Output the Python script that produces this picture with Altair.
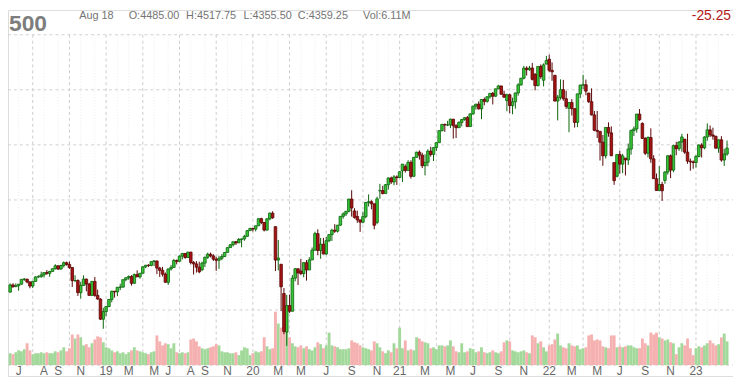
import datetime as dt
import numpy as np
import pandas as pd
import altair as alt

# ---------------- data ----------------
FIRST_WEEK = -34                 # week index of first candle (0 = week of Mon 2018-12-31)
WEEK_ZERO = dt.date(2018, 12, 31)

# weekly candles (open, high, low, close)
ohlc_2018 = [
    (2663, 2742, 2658, 2728), (2728, 2743, 2701, 2713), (2713, 2742, 2707, 2721), (2721, 2736, 2676, 2735),
    (2735, 2779, 2730, 2779), (2779, 2791, 2765, 2780), (2780, 2785, 2743, 2755), (2755, 2760, 2698, 2718),
    (2718, 2760, 2699, 2760), (2760, 2805, 2759, 2801), (2801, 2816, 2793, 2802), (2802, 2848, 2795, 2819),
    (2819, 2841, 2795, 2840), (2840, 2863, 2820, 2833), (2833, 2855, 2802, 2850), (2850, 2877, 2850, 2875),
    (2875, 2916, 2868, 2902), (2902, 2903, 2865, 2872), (2872, 2912, 2868, 2904), (2904, 2941, 2886, 2930),
    (2930, 2940, 2903, 2914), (2914, 2940, 2874, 2886), (2886, 2888, 2710, 2767), (2767, 2816, 2755, 2768),
    (2768, 2779, 2628, 2658), (2658, 2756, 2603, 2723), (2723, 2815, 2722, 2781), (2781, 2785, 2670, 2736),
    (2736, 2747, 2631, 2633), (2633, 2760, 2631, 2760), (2760, 2800, 2621, 2633), (2633, 2685, 2593, 2600),
    (2600, 2607, 2409, 2417), (2417, 2520, 2330, 2486),
]
ohlc_2019 = [
    (2486, 2538, 2444, 2532), (2532, 2597, 2525, 2596), (2596, 2675, 2570, 2671), (2671, 2672, 2613, 2665),
    (2665, 2709, 2627, 2707), (2707, 2739, 2681, 2708), (2708, 2776, 2705, 2776), (2776, 2796, 2761, 2793),
    (2793, 2814, 2775, 2804), (2804, 2817, 2722, 2743), (2743, 2831, 2741, 2822), (2822, 2860, 2800, 2801),
    (2801, 2836, 2785, 2834), (2834, 2894, 2834, 2893), (2893, 2910, 2880, 2907), (2907, 2916, 2891, 2905),
    (2905, 2940, 2898, 2940), (2940, 2954, 2900, 2946), (2946, 2946, 2826, 2881), (2881, 2892, 2801, 2860),
    (2860, 2892, 2805, 2826), (2826, 2841, 2750, 2752), (2752, 2876, 2729, 2873), (2873, 2910, 2858, 2887),
    (2887, 2964, 2887, 2950), (2950, 2959, 2914, 2942), (2942, 2996, 2942, 2990), (2990, 3017, 2960, 3014),
    (3014, 3018, 2966, 2977), (2977, 3028, 2977, 3026), (3026, 3028, 2914, 2932), (2932, 2945, 2822, 2919),
    (2919, 2944, 2840, 2889), (2889, 2939, 2834, 2847), (2866, 2940, 2853, 2926), (2926, 2985, 2891, 2979),
    (2979, 3021, 2964, 3007), (3007, 3022, 2978, 2992), (2992, 3007, 2946, 2962), (2962, 2983, 2856, 2952),
    (2952, 2993, 2874, 2970), (2970, 3008, 2952, 2986), (2986, 3027, 2982, 3023), (3023, 3067, 3023, 3067),
    (3067, 3098, 3066, 3093), (3093, 3120, 3078, 3120), (3120, 3127, 3091, 3110), (3110, 3154, 3110, 3141),
    (3141, 3150, 3070, 3146), (3146, 3183, 3129, 3169), (3169, 3226, 3166, 3221), (3221, 3248, 3221, 3240),
    (3240, 3248, 3213, 3235),
]
ohlc_2020 = [
    (3235, 3267, 3214, 3265), (3265, 3330, 3263, 3330), (3330, 3338, 3280, 3295), (3295, 3300, 3214, 3226),
    (3226, 3337, 3223, 3328), (3328, 3385, 3315, 3380), (3380, 3397, 3328, 3338), (3257, 3260, 2855, 2954),
    (2954, 3136, 2860, 2972), (2915, 2920, 2490, 2711), (2650, 2700, 2280, 2305), (2300, 2637, 2175, 2541),
    (2541, 2641, 2474, 2489), (2489, 2819, 2489, 2790), (2790, 2880, 2761, 2875), (2875, 2875, 2727, 2837),
    (2854, 2965, 2817, 2831), (2831, 2934, 2797, 2930), (2930, 2954, 2767, 2864), (2864, 2980, 2864, 2955),
    (2955, 3068, 2955, 3044), (3044, 3211, 3039, 3194), (3194, 3233, 2999, 3041), (3041, 3155, 2966, 3098),
    (3098, 3155, 3007, 3009), (3009, 3165, 3000, 3130), (3130, 3186, 3116, 3185), (3185, 3238, 3127, 3225),
    (3225, 3280, 3201, 3216), (3216, 3272, 3204, 3271), (3271, 3352, 3264, 3351), (3351, 3387, 3330, 3373),
    (3373, 3399, 3354, 3397), (3397, 3509, 3387, 3508), (3508, 3588, 3349, 3427), (3400, 3425, 3330, 3341),
    (3350, 3402, 3292, 3319), (3319, 3320, 3210, 3298), (3298, 3394, 3288, 3348), (3348, 3479, 3333, 3477),
    (3477, 3550, 3440, 3484), (3484, 3497, 3415, 3465), (3465, 3466, 3233, 3270), (3296, 3529, 3279, 3510),
    (3583, 3646, 3511, 3585), (3585, 3628, 3550, 3558), (3558, 3645, 3557, 3638), (3638, 3705, 3594, 3699),
    (3699, 3712, 3645, 3663), (3663, 3726, 3633, 3709), (3709, 3723, 3636, 3703), (3703, 3760, 3703, 3756),
]
ohlc_2021 = [
    (3764, 3826, 3663, 3825), (3803, 3823, 3749, 3768), (3768, 3861, 3768, 3841), (3841, 3860, 3694, 3714),
    (3714, 3887, 3714, 3887), (3887, 3937, 3886, 3934), (3934, 3950, 3866, 3907), (3907, 3928, 3789, 3811),
    (3811, 3914, 3723, 3842), (3842, 3960, 3805, 3943), (3943, 3983, 3894, 3913), (3913, 3978, 3853, 3975),
    (3975, 4021, 3944, 4020), (4020, 4130, 4020, 4129), (4129, 4192, 4122, 4185), (4185, 4194, 4118, 4180),
    (4180, 4218, 4170, 4181), (4181, 4238, 4152, 4233), (4233, 4236, 4057, 4174), (4174, 4188, 4062, 4156),
    (4156, 4213, 4155, 4204), (4204, 4234, 4168, 4230), (4230, 4250, 4219, 4247), (4247, 4262, 4165, 4166),
    (4166, 4286, 4165, 4281), (4281, 4356, 4274, 4352), (4352, 4372, 4320, 4370), (4370, 4394, 4321, 4327),
    (4327, 4415, 4233, 4412), (4412, 4430, 4360, 4395), (4395, 4441, 4383, 4437), (4437, 4468, 4420, 4468),
    (4468, 4480, 4367, 4442), (4442, 4510, 4436, 4509), (4509, 4545, 4505, 4535), (4535, 4536, 4457, 4459),
    (4459, 4492, 4427, 4433), (4402, 4465, 4305, 4455), (4455, 4466, 4288, 4357), (4357, 4429, 4278, 4391),
    (4391, 4475, 4329, 4471), (4471, 4560, 4447, 4545), (4545, 4608, 4537, 4605), (4605, 4718, 4595, 4697),
    (4697, 4714, 4630, 4683), (4683, 4718, 4672, 4698), (4698, 4744, 4585, 4595), (4640, 4652, 4495, 4538),
    (4538, 4713, 4531, 4712), (4712, 4731, 4600, 4620), (4587, 4740, 4531, 4726), (4733, 4808, 4733, 4766),
]
ohlc_2022 = [
    (4778, 4818, 4662, 4677), (4677, 4749, 4582, 4663), (4632, 4632, 4395, 4398), (4398, 4453, 4222, 4432),
    (4432, 4595, 4410, 4501), (4501, 4590, 4401, 4419), (4419, 4490, 4327, 4349), (4332, 4385, 4115, 4385),
    (4385, 4416, 4267, 4329), (4329, 4329, 4157, 4204), (4204, 4465, 4161, 4463), (4463, 4546, 4424, 4543),
    (4543, 4637, 4507, 4546), (4546, 4593, 4450, 4488), (4471, 4471, 4381, 4392), (4392, 4513, 4267, 4272),
    (4272, 4308, 4124, 4132), (4132, 4308, 4062, 4123), (4123, 4124, 3858, 4024), (4024, 4090, 3810, 3901),
    (3901, 4158, 3876, 4158), (4158, 4204, 4074, 4109), (4109, 4168, 3900, 3901), (3839, 3839, 3637, 3675),
    (3715, 3913, 3705, 3912), (3912, 3946, 3738, 3825), (3825, 3918, 3743, 3899), (3880, 3880, 3722, 3863),
    (3863, 4012, 3818, 3962), (3962, 4140, 3911, 4130), (4130, 4168, 4080, 4145), (4145, 4280, 4111, 4280),
    (4280, 4325, 4218, 4228), (4195, 4204, 4057, 4058), (4058, 4071, 3907, 3924), (3924, 4077, 3886, 4067),
    (4067, 4150, 3837, 3873), (3873, 3906, 3693, 3693), (3693, 3740, 3585, 3586), (3586, 3807, 3584, 3640),
    (3640, 3665, 3491, 3583), (3677, 3762, 3647, 3753), (3753, 3906, 3730, 3901), (3901, 3912, 3698, 3771),
    (3771, 4001, 3751, 3993), (3993, 4028, 3906, 3965), (3965, 4034, 3945, 4026), (4026, 4100, 3938, 4072),
    (4052, 4052, 3918, 3934), (3934, 4101, 3828, 3852), (3852, 3876, 3765, 3845), (3845, 3859, 3783, 3840),
]
ohlc_2023 = [
    (3840, 3906, 3794, 3895), (3895, 4004, 3887, 3999), (3999, 4015, 3885, 3973), (3973, 4078, 3960, 4071),
    (4071, 4195, 4037, 4136), (4136, 4176, 4071, 4090), (4090, 4156, 4047, 4079), (4079, 4079, 3968, 3970),
    (3970, 4049, 3928, 4046), (4046, 4079, 3847, 3862), (3862, 3964, 3809, 3917), (3917, 4039, 3901, 3971),
]

# weekly volume (millions of contracts)
vol_2018 = [5.0, 4.6, 5.4, 6.2, 5.8, 6.7, 9.2, 6.2, 4.6, 5.0, 5.0, 5.4, 5.0, 5.4, 5.0, 5.0, 5.8,
            5.4, 6.2, 7.5, 5.8, 7.1, 12.9, 11.2, 12.9, 11.7, 8.3, 8.8, 7.5, 9.2, 10.8, 12.1, 11.7, 9.6]
vol_2019 = [7.5, 7.1, 6.2, 5.4, 5.8, 5.0, 5.4, 4.6, 5.4, 6.2, 7.5, 6.2, 5.8, 5.4, 5.0, 4.6, 5.4, 5.8,
            12.5, 10.0, 8.3, 9.2, 8.8, 7.1, 9.2, 5.4, 5.0, 5.4, 5.0, 5.4, 10.8, 11.2, 10.0, 7.9, 7.1, 6.7,
            7.1, 7.5, 7.9, 8.8, 8.3, 5.8, 5.4, 5.4, 5.0, 5.0, 5.4, 4.2, 6.2, 7.5, 7.1, 4.2, 5.0]
vol_2020 = [5.8, 5.4, 5.8, 11.7, 7.9, 6.7, 7.1, 22.5, 17.5, 15.8, 14.2, 19.2, 11.7, 9.2, 7.9, 7.5, 8.3,
            7.1, 7.9, 6.7, 6.2, 7.5, 9.6, 8.8, 7.1, 8.3, 13.7, 8.3, 7.9, 7.5, 6.7, 6.7, 6.7, 7.1, 10.4,
            9.6, 9.2, 8.3, 7.5, 7.1, 6.7, 6.2, 10.0, 9.2, 7.5, 5.8, 5.0, 6.2, 5.4, 9.2, 7.1, 15.8]
vol_2021 = [7.1, 10.4, 6.2, 6.7, 6.2, 11.7, 11.2, 10.0, 9.6, 9.2, 7.1, 7.5, 6.7, 8.3, 8.3, 7.9, 8.3,
            10.4, 7.9, 5.8, 5.4, 9.2, 5.4, 5.8, 7.1, 6.7, 5.4, 5.8, 7.5, 5.4, 5.0, 5.4, 6.2, 5.4, 5.0,
            5.8, 9.6, 10.4, 10.0, 6.2, 5.8, 5.4, 5.8, 6.2, 5.4, 5.0, 12.5, 11.7, 9.2, 10.0, 7.5, 5.8]
vol_2022 = [8.3, 8.8, 10.8, 13.3, 8.3, 7.5, 7.1, 9.2, 8.3, 7.9, 8.3, 6.7, 7.1, 7.5, 12.5, 12.9, 10.4,
            10.8, 10.4, 7.9, 7.5, 7.1, 12.5, 12.5, 7.5, 7.9, 7.5, 7.9, 8.3, 8.3, 7.5, 7.1, 7.1, 11.2,
            9.2, 8.3, 13.7, 12.9, 13.7, 11.7, 11.2, 10.4, 10.8, 9.6, 9.2, 4.6, 7.5, 9.2, 8.3, 11.2, 7.1, 4.2]
vol_2023 = [7.1, 7.9, 7.5, 8.3, 9.2, 10.4, 9.2, 8.3, 8.8, 11.7, 13.3, 10.0]

price_grid = [2000, 2500, 3000, 3500, 4000, 4500, 5000]

label_text = ["J", "A", "S", "N", "19", "M", "M", "J", "A", "S", "N", "20", "M", "M", "J", "S", "N",
              "21", "M", "M", "J", "S", "N", "22", "M", "M", "J", "S", "N", "23"]
label_month = ["2018-06", "2018-08", "2018-09", "2018-11", "2019-01", "2019-03", "2019-05", "2019-06",
               "2019-08", "2019-09", "2019-11", "2020-01", "2020-03", "2020-05", "2020-07", "2020-09",
               "2020-11", "2021-01", "2021-03", "2021-05", "2021-07", "2021-09", "2021-11", "2022-01",
               "2022-03", "2022-05", "2022-07", "2022-09", "2022-11", "2023-01"]

header_symbol = "500"
header_date = "Aug 18"
header_ohlc = ["O:4485.00", "H:4517.75", "L:4355.50", "C:4359.25"]
header_vol = "Vol:6.11M"
header_change = "-25.25"

# ---------------- tables ----------------
rows = ohlc_2018 + ohlc_2019 + ohlc_2020 + ohlc_2021 + ohlc_2022 + ohlc_2023
vols = vol_2018 + vol_2019 + vol_2020 + vol_2021 + vol_2022 + vol_2023
assert len(rows) == len(vols), (len(rows), len(vols))
df = pd.DataFrame(rows, columns=["open", "high", "low", "close"])
df["w"] = np.arange(FIRST_WEEK, FIRST_WEEK + len(df))
df["vol"] = vols
df["dir"] = np.where(df["close"] >= df["open"], "up", "down")


def month_week(year, month):
    d = dt.date(year, month, 1)
    fri = d + dt.timedelta(days=(4 - d.weekday()) % 7)
    mon = fri - dt.timedelta(days=4)
    return (mon - WEEK_ZERO).days // 7


labels_df = pd.DataFrame({
    "label": label_text,
    "w": [month_week(int(m[:4]), int(m[5:])) for m in label_month],
})

quarter_w, month_w = [], []
for y in range(2018, 2024):
    for m in range(1, 13):
        if (y, m) < (2018, 5) or (y, m) > (2023, 3):
            continue
        (quarter_w if m in (1, 4, 7, 10) else month_w).append(month_week(y, m))
quarter_df = pd.DataFrame({"w": quarter_w})
month_df = pd.DataFrame({"w": month_w})
grid_df = pd.DataFrame({"p": price_grid})

# ---------------- layout ----------------
W, H = 733, 370
FONT = "Liberation Sans"
xs = alt.Scale(domain=[-33.01, 220.36], nice=False, zero=False)
ps = alt.Scale(domain=[2000, 5000], range=[359, 25], nice=False, zero=False)
vs = alt.Scale(domain=[0, 100], range=[359, 119], nice=False)
X = alt.X("w:Q", scale=xs, axis=None)

UP_FILL, UP_EDGE = "#38c438", "#0c640c"
DN_FILL, DN_EDGE = "#a51313", "#5a0505"
VOL_UP, VOL_DN = "#a2d99a", "#f5b0b0"

month_rules = alt.Chart(month_df).mark_rule(color="#ededed", strokeDash=[1, 2], strokeWidth=1).encode(
    x=X, y=alt.value(25), y2=alt.value(359))
quarter_rules = alt.Chart(quarter_df).mark_rule(color="#cbcbcb", strokeDash=[3, 3], strokeWidth=1).encode(
    x=X, y=alt.value(25), y2=alt.value(359))
hgrid = alt.Chart(grid_df).mark_rule(color="#d0d0d0", strokeDash=[3, 3], strokeWidth=1).encode(
    y=alt.Y("p:Q", scale=ps, axis=None), x=alt.value(0), x2=alt.value(W))

base = alt.Chart(df)
up = base.transform_filter("datum.dir == 'up'")
dn = base.transform_filter("datum.dir == 'down'")

vol_up = up.mark_bar(size=2.9, color=VOL_UP).encode(x=X, y=alt.Y("vol:Q", scale=vs, axis=None))
vol_dn = dn.mark_bar(size=2.9, color=VOL_DN).encode(x=X, y=alt.Y("vol:Q", scale=vs, axis=None))

wick_up = up.mark_rule(color=UP_EDGE, strokeWidth=1).encode(
    x=X, y=alt.Y("low:Q", scale=ps, axis=None), y2="high:Q")
wick_dn = dn.mark_rule(color=DN_EDGE, strokeWidth=1).encode(
    x=X, y=alt.Y("low:Q", scale=ps, axis=None), y2="high:Q")
body_up = up.mark_bar(size=2.6, fill=UP_FILL, stroke=UP_EDGE, strokeWidth=0.8).encode(
    x=X, y=alt.Y("open:Q", scale=ps, axis=None), y2="close:Q")
body_dn = dn.mark_bar(size=2.6, fill=DN_FILL, stroke=DN_EDGE, strokeWidth=0.8).encode(
    x=X, y=alt.Y("open:Q", scale=ps, axis=None), y2="close:Q")

labels = alt.Chart(labels_df).mark_text(
    font=FONT, fontSize=12, color="#666666", align="center", baseline="alphabetic").encode(
    x=X, text="label:N", y=alt.value(369))


def header_text(txt, x, y, size=11, color="#747474", weight="normal", align="left"):
    return alt.Chart(pd.DataFrame({"t": [txt]})).mark_text(
        font=FONT, fontSize=size, color=color, fontWeight=weight, align=align, baseline="alphabetic"
    ).encode(text="t:N", x=alt.value(x), y=alt.value(y))


headers = [
    header_text(header_symbol, 1, 21, size=23, color="#7d7d7d", weight="bold"),
    header_text(header_date, 72, 9.5),
]
for txt, x in zip(header_ohlc, [122, 180, 238, 293]):
    headers.append(header_text(txt, x, 9.5))
headers.append(header_text(header_vol, 359, 9.5))
headers.append(header_text(header_change, 731, 10, size=14, color="#b3191b", align="right"))

chart = alt.layer(
    month_rules, quarter_rules, hgrid, vol_up, vol_dn,
    wick_up, wick_dn, body_up, body_dn, labels, *headers
).resolve_scale(y="independent").properties(
    width=W, height=H, padding=0, autosize=alt.AutoSizeParams(type="none")
).configure_view(stroke=None).configure(background="white")

chart.save("out.html", embed_options={"renderer": "svg", "actions": False})
